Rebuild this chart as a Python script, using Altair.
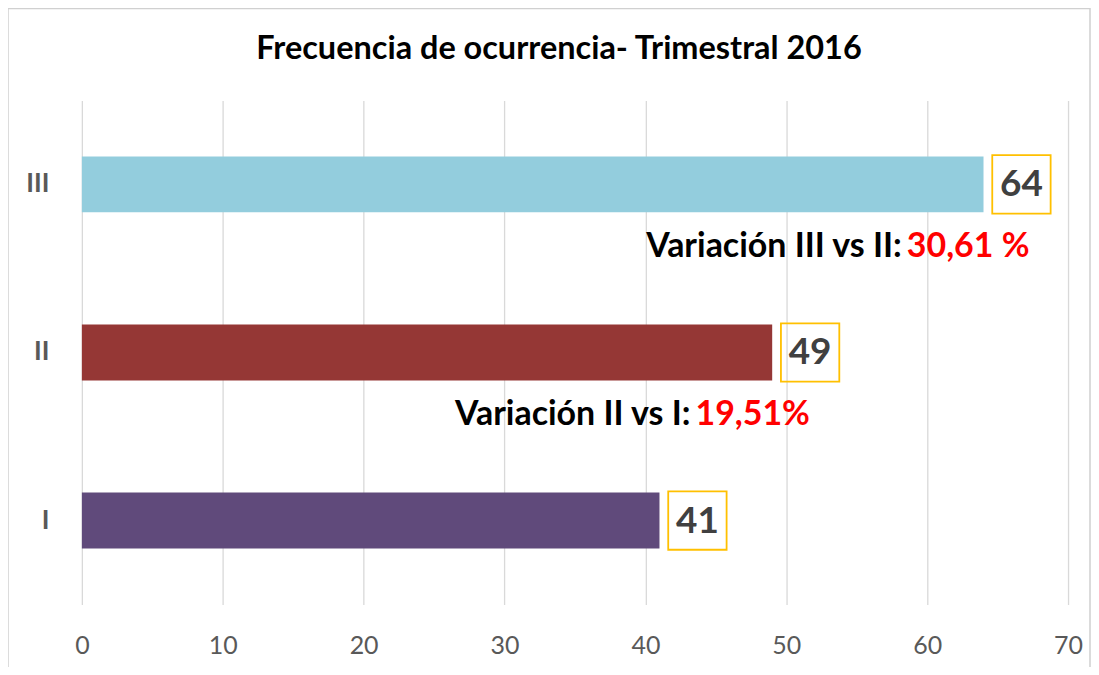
import altair as alt
import pandas as pd

categories = ["III", "II", "I"]
values = [64, 49, 41]
bar_colors = ["#93CDDD", "#953735", "#604A7B"]

annot_cat = ["III", "II"]
annot_value = [64, 49]
annot_label = ["Variación III vs II: ", "Variación II vs I: "]
annot_pct = ["30,61 %", "19,51%"]

x_ticks = [0, 10, 20, 30, 40, 50, 60, 70]
title_text = ["Frecuencia de ocurrencia- Trimestral 2016"]

df = pd.DataFrame({"cat": categories, "val": values})
ann = pd.DataFrame({"cat": annot_cat, "val": annot_value, "label": annot_label, "pct": annot_pct})
tdf = pd.DataFrame({"t": title_text})

FONT = "Lato"

xscale = alt.Scale(domain=[0, 70], nice=False)
yscale = alt.Scale(domain=categories, paddingInner=0.667, paddingOuter=0.333)

x_enc = alt.X("val:Q", scale=xscale, axis=alt.Axis(
    values=x_ticks, grid=True, gridColor="#D9D9D9", gridWidth=1.3, domain=False, ticks=False,
    labelFlush=False, labelFontSize=25, labelColor="#595959", labelFont=FONT,
    labelPadding=29, title=None))
y_enc = alt.Y("cat:N", scale=yscale, sort=categories, axis=alt.Axis(
    domain=False, ticks=False, grid=False, labelFontSize=26, labelFontWeight="bold",
    labelColor="#595959", labelFont=FONT, labelPadding=33, title=None))

base = alt.Chart(df)

frame = alt.Chart(tdf).mark_rect(fill=None, stroke="#D0D0D0", strokeWidth=1.5).encode(
    x=alt.value(-74), x2=alt.value(1010), y=alt.value(-92), y2=alt.value(590))

title = alt.Chart(tdf).mark_text(font=FONT, fontSize=32.5, fontWeight="bold", color="#000000",
                                 align="center", baseline="middle").encode(
    x=alt.value(478), y=alt.value(-52), text="t:N")

bars = base.mark_bar(size=56).encode(
    x=x_enc, y=y_enc,
    color=alt.Color("cat:N", scale=alt.Scale(domain=categories, range=bar_colors), legend=None))

boxes = base.mark_point(shape="square", filled=False, size=3420, stroke="#FFC000",
                        strokeWidth=1.8, opacity=1, xOffset=38).encode(
    x=alt.X("val:Q", scale=xscale), y=alt.Y("cat:N", scale=yscale, sort=categories))

nums = base.mark_text(font=FONT, fontSize=37, fontWeight="bold", color="#404040",
                      align="center", baseline="middle", dx=38, dy=1).encode(
    x=alt.X("val:Q", scale=xscale), y=alt.Y("cat:N", scale=yscale, sort=categories),
    text="val:Q")

ann_base = alt.Chart(ann).transform_calculate(anchor="datum.val - 5.8")
ann_black = ann_base.mark_text(font=FONT, fontSize=34, fontWeight="bold", color="#000000",
                               align="right", baseline="middle", dy=63).encode(
    x=alt.X("anchor:Q", scale=xscale), y=alt.Y("cat:N", scale=yscale, sort=categories),
    text="label:N")
ann_red = ann_base.mark_text(font=FONT, fontSize=34, fontWeight="bold", color="#FF0000",
                             align="left", baseline="middle", dy=63, dx=5).encode(
    x=alt.X("anchor:Q", scale=xscale), y=alt.Y("cat:N", scale=yscale, sort=categories),
    text="pct:N")

chart = alt.layer(frame, title, bars, boxes, nums, ann_black, ann_red).properties(
    width=988, height=505,
    autosize=alt.AutoSizeParams(type="none"),
    padding={"left": 74, "top": 92, "right": 23, "bottom": 62},
).configure_view(stroke=None)

chart.save("out.html", embed_options={"renderer": "svg", "actions": False})
